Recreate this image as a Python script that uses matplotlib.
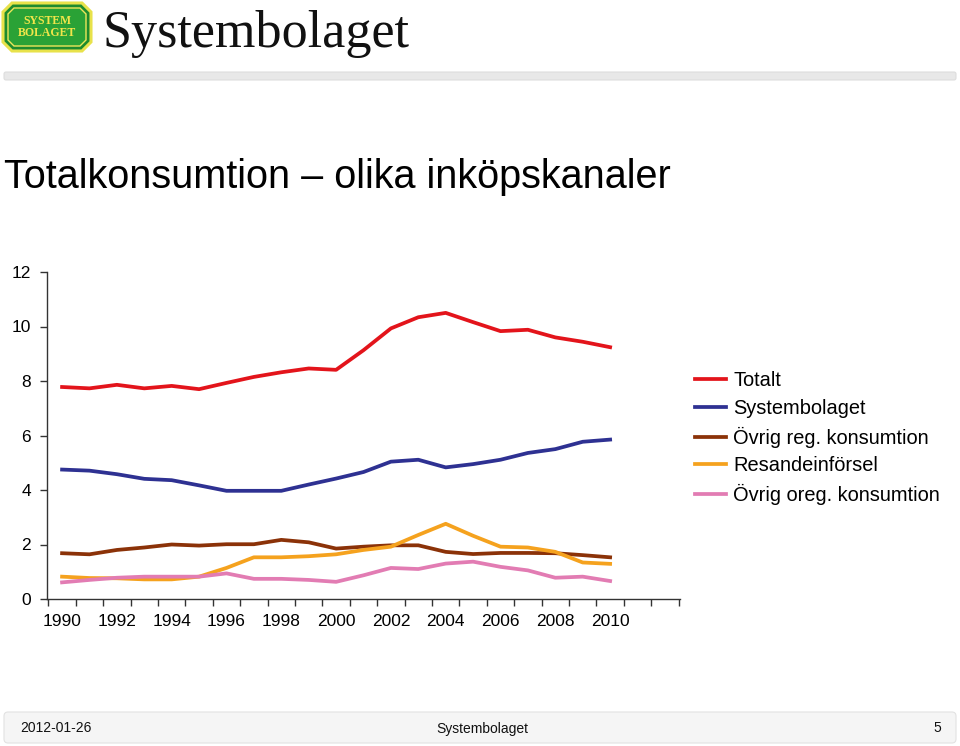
import matplotlib
matplotlib.use("Agg")
import matplotlib.pyplot as plt
from matplotlib.patches import Polygon, FancyBboxPatch
import numpy as np

plt.rcParams['font.family'] = ['Liberation Sans', 'DejaVu Sans']

years = list(range(1990, 2011))
categories = [str(y) for y in range(1990, 2013)]
tick_labels = ["1990", "1992", "1994", "1996", "1998", "2000", "2002", "2004", "2006", "2008", "2010"]

totalt = [7.78, 7.73, 7.86, 7.73, 7.82, 7.70, 7.93, 8.15, 8.32, 8.46, 8.41,
          9.13, 9.93, 10.34, 10.50, 10.16, 9.83, 9.88, 9.60, 9.44, 9.24]
systembolaget = [4.75, 4.71, 4.58, 4.41, 4.36, 4.17, 3.97, 3.97, 3.97, 4.20, 4.42,
                 4.66, 5.04, 5.11, 4.83, 4.95, 5.11, 5.36, 5.50, 5.77, 5.85]
ovrig_reg = [1.68, 1.64, 1.80, 1.89, 2.00, 1.96, 2.01, 2.01, 2.17, 2.08, 1.85,
             1.92, 1.97, 1.97, 1.73, 1.65, 1.69, 1.69, 1.68, 1.61, 1.53]
resande = [0.82, 0.77, 0.76, 0.72, 0.72, 0.82, 1.14, 1.53, 1.53, 1.57, 1.64,
           1.80, 1.92, 2.35, 2.76, 2.32, 1.92, 1.89, 1.73, 1.34, 1.29]
ovrig_oreg = [0.61, 0.70, 0.78, 0.82, 0.82, 0.82, 0.94, 0.74, 0.74, 0.70, 0.63,
              0.87, 1.14, 1.10, 1.30, 1.37, 1.18, 1.05, 0.78, 0.82, 0.66]

series_names = ["Totalt", "Systembolaget", "Övrig reg. konsumtion", "Resandeinförsel", "Övrig oreg. konsumtion"]
series_values = [totalt, systembolaget, ovrig_reg, resande, ovrig_oreg]
colors = ["#E3141B", "#2E3192", "#8B3208", "#F5A21E", "#E27CB3"]

W, H = 960, 746
fig = plt.figure(figsize=(W / 100, H / 100), dpi=100)

# background / decoration layer in pixel coords
bg = fig.add_axes([0, 0, 1, 1], zorder=0)
bg.set_xlim(0, W)
bg.set_ylim(H, 0)
bg.axis("off")

def octagon(x0, y0, x1, y1, c):
    return [(x0 + c, y0), (x1 - c, y0), (x1, y0 + c), (x1, y1 - c),
            (x1 - c, y1), (x0 + c, y1), (x0, y1 - c), (x0, y0 + c)]

bg.add_patch(Polygon(octagon(3, 3, 91, 51, 9), closed=True, facecolor="#1E8B2E", edgecolor="#E8E24A", lw=2.2))
bg.add_patch(Polygon(octagon(8, 8, 86, 46, 6), closed=True, facecolor="#2AA236", edgecolor="#EDE65A", lw=1.0))
bg.text(47, 20.5, "SYSTEM", ha="center", va="center", fontsize=8.5, fontweight="bold",
        family="Liberation Serif", color="#F2E64A")
bg.text(47, 33.5, "BOLAGET", ha="center", va="center", fontsize=8.5, fontweight="bold",
        family="Liberation Serif", color="#F2E64A")
bg.text(102, 34, "Systembolaget", ha="left", va="center", fontsize=37.5,
        family="Liberation Serif", color="#111111")

# header bar
bg.add_patch(FancyBboxPatch((4, 72), 952, 8, boxstyle="round,pad=0,rounding_size=2",
                            facecolor="#E8E8E8", edgecolor="#DDDDDD", lw=0.8))

# title
bg.text(4, 177, "Totalkonsumtion – olika inköpskanaler", ha="left", va="center",
        fontsize=28.5, color="#000000")

# footer
bg.add_patch(FancyBboxPatch((4, 712), 952, 31, boxstyle="round,pad=0,rounding_size=4",
                            facecolor="#F5F5F5", edgecolor="#E2E2E2", lw=0.8))
bg.text(20, 728.5, "2012-01-26", ha="left", va="center", fontsize=10, color="#111111")
bg.text(482, 728.5, "Systembolaget", ha="center", va="center", fontsize=10, color="#111111")
bg.text(941, 728.5, "5", ha="right", va="center", fontsize=10, color="#111111")

# chart
ax = fig.add_axes([47 / W, 147 / H, (680 - 47) / W, (599 - 272) / H], zorder=1)
ax.patch.set_alpha(0)
x = np.arange(len(years))
lines = []
for name, vals, c in zip(series_names, series_values, colors):
    ln, = ax.plot(x, vals, color=c, lw=2.7, label=name, solid_joinstyle="round")
    lines.append(ln)

ax.set_xlim(-0.55, len(categories) - 0.45)
ax.set_ylim(0, 12)
ax.set_yticks(np.arange(0, 13, 2))
ax.set_yticklabels([str(v) for v in range(0, 13, 2)])
ax.set_xticks(np.arange(-0.5, len(categories), 1.0))
ax.set_xticklabels([])
ax.set_xticks([categories.index(t) for t in tick_labels], minor=True)
ax.set_xticklabels(tick_labels, minor=True)
ax.tick_params(axis="x", which="major", direction="out", length=5, width=1, color="#333333")
ax.tick_params(axis="x", which="minor", length=0, pad=11, labelsize=12.5)
ax.tick_params(axis="y", direction="out", length=5, width=1, color="#333333", pad=6.5, labelsize=12.5)
for s in ["top", "right"]:
    ax.spines[s].set_visible(False)
for s in ["left", "bottom"]:
    ax.spines[s].set_color("#333333")
    ax.spines[s].set_linewidth(1)

leg = fig.legend(handles=lines, labels=series_names, loc="upper left",
                 bbox_to_anchor=(695 / W, 1 - 371 / H), frameon=False, fontsize=14.4,
                 handlelength=1.55, handletextpad=0.35, labelspacing=0.44, borderaxespad=0,
                 borderpad=0)

fig.savefig("out.png", dpi=100)
